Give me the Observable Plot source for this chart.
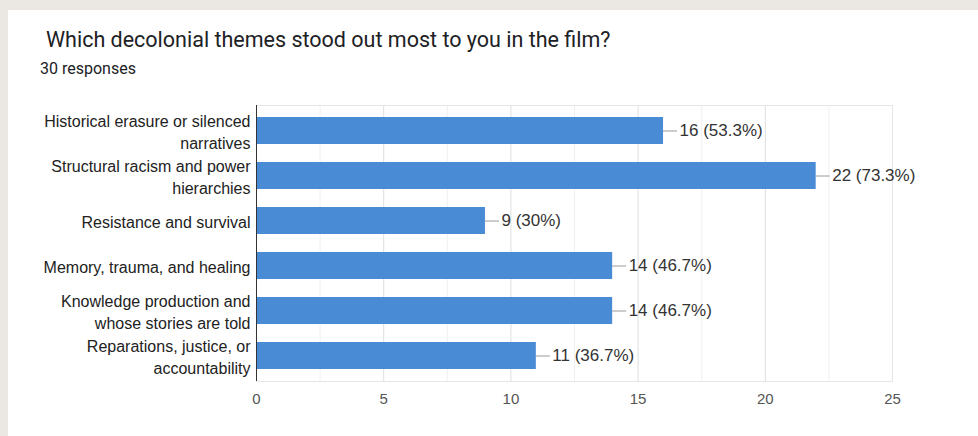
<!DOCTYPE html>
<html>
<head>
<meta charset="utf-8">
<script src="https://cdn.jsdelivr.net/npm/d3@7"></script>
<script src="https://cdn.jsdelivr.net/npm/@observablehq/plot@0.6"></script>
<style>
  html, body { margin: 0; padding: 0; background: #ebe7e2; width: 978px; height: 436px; overflow: hidden; }
  #card { position: absolute; left: 8px; top: 10px; width: 970px; height: 426px; background: #ffffff; }
  #title { position: absolute; left: 46px; top: 29px; font-family: Roboto, "Noto Sans", sans-serif; font-size: 21.5px; line-height: 21px; color: #202124; white-space: nowrap; }
  #subtitle { position: absolute; left: 40px; top: 61px; font-family: Roboto, "Noto Sans", sans-serif; font-size: 16px; line-height: 16px; color: #202124; white-space: nowrap; }
  #chart { position: absolute; left: 0; top: 0; }
</style>
</head>
<body>
<div id="card"></div>
<div id="title">Which decolonial themes stood out most to you in the film?</div>
<div id="subtitle">30 responses</div>
<div id="chart"></div>
<script>
const categories = [
  "Historical erasure or silenced narratives",
  "Structural racism and power hierarchies",
  "Resistance and survival",
  "Memory, trauma, and healing",
  "Knowledge production and whose stories are told",
  "Reparations, justice, or accountability"
];
const wrappedLabels = [
  "Historical erasure or silenced\nnarratives",
  "Structural racism and power\nhierarchies",
  "Resistance and survival",
  "Memory, trauma, and healing",
  "Knowledge production and\nwhose stories are told",
  "Reparations, justice, or\naccountability"
];
const counts = [16, 22, 9, 14, 14, 11];
const valueLabels = ["16 (53.3%)", "22 (73.3%)", "9 (30%)", "14 (46.7%)", "14 (46.7%)", "11 (36.7%)"];
const majorTicks = [0, 5, 10, 15, 20, 25];
const minorTicks = [2.5, 7.5, 12.5, 17.5, 22.5];

const data = categories.map((c, i) => ({category: c, count: counts[i], label: valueLabels[i]}));
const labelMap = new Map(categories.map((c, i) => [c, wrappedLabels[i]]));

const chart = Plot.plot({
  width: 978,
  height: 436,
  marginLeft: 256,
  marginRight: 86,
  marginTop: 105,
  marginBottom: 55,
  style: {fontFamily: "'Liberation Sans', Arial, sans-serif", fontSize: "16px", background: "transparent", color: "#222"},
  x: {domain: [0, 25], ticks: majorTicks},
  y: {domain: categories, paddingInner: 0.4, paddingOuter: 0.25},
  marks: [
    Plot.ruleX(minorTicks, {stroke: "#f0f0f0", strokeWidth: 1}),
    Plot.ruleX(majorTicks, {stroke: "#dedede", strokeWidth: 1}),
    Plot.frame({stroke: "#e6e6e6"}),
    Plot.barX(data, {x: "count", y: "category", fill: "#4a8bd5"}),
    Plot.ruleY(data, {y: "category", x1: "count", x2: "count", insetRight: -14, stroke: "#9a9a9a", strokeWidth: 1}),
    Plot.text(data, {x: "count", y: "category", text: "label", dx: 16, textAnchor: "start", fill: "#333", fontSize: 17}),
    Plot.axisX({ticks: majorTicks, tickSize: 0, tickPadding: 12, fill: "#555", fontSize: 15, label: null}),
    Plot.axisY({tickSize: 0, tickPadding: 6, tickFormat: d => labelMap.get(d), fill: "#222", fontSize: 16, lineHeight: 1.4, label: null}),
    Plot.ruleX([0], {stroke: "#333", strokeWidth: 1})
  ]
});
document.getElementById("chart").appendChild(chart);
</script>
</body>
</html>
